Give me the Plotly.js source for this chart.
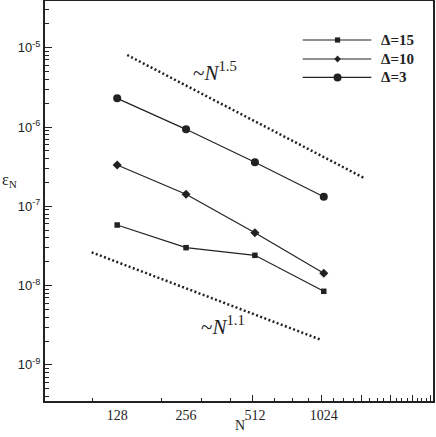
<!DOCTYPE html>
<html>
<head>
<meta charset="utf-8">
<script src="https://cdn.plot.ly/plotly-3.0.1.min.js"></script>
<style>
  html, body { margin: 0; padding: 0; background: #fff; }
  #plot { width: 436px; height: 437px; }
</style>
</head>
<body>
<div id="plot"></div>
<script>
// grid sizes and errors
const N = [128, 256, 512, 1024];
const err15 = [5.81e-8, 3.01e-8, 2.41e-8, 8.48e-9];
const err10 = [3.32e-7, 1.42e-7, 4.65e-8, 1.43e-8];
const err3 = [2.30e-6, 9.35e-7, 3.59e-7, 1.32e-7];

// reference slopes (end points of the dotted lines)
const slope15N = [141.6, 1548];
const slope15E = [8.09e-6, 2.25e-7];
const slope11N = [99, 984];
const slope11E = [2.63e-8, 2.10e-9];

const seriesNames = ['Δ=15', 'Δ=10', 'Δ=3'];
const xTickLabels = ['128', '256', '512', '1024'];
const yTickVals = [1e-9, 1e-8, 1e-7, 1e-6, 1e-5];
const yTickText = ['10<sup>-9</sup>', '10<sup>-8</sup>', '10<sup>-7</sup>', '10<sup>-6</sup>', '10<sup>-5</sup>'];

// tick marks on the N axis (tecplot style)
const xMajorMarks = [500, 1000, 1500, 2000, 2500, 3000];
const xMinorMarks = [100, 200, 300, 400, 625, 750, 875, 1125, 1250, 1375,
  1625, 1750, 1875, 2125, 2250, 2375, 2625, 2750, 2875];

const yMinor = [];
for (let e = -10; e <= -5; e++) {
  for (let d = 2; d <= 9; d++) yMinor.push(d * Math.pow(10, e));
}

const ink = '#222';
const serif = 'Liberation Serif';

const symbols = ['square', 'diamond', 'circle'];
const sizes = [5.5, 7, 8];
const errs = [err15, err10, err3];

const traces = errs.map((e, i) => ({
  x: N, y: e, name: seriesNames[i], mode: 'lines+markers', showlegend: false,
  line: { color: ink, width: 1.2 },
  marker: { symbol: symbols[i], size: sizes[i], color: ink }
}));
traces.push(
  { x: slope15N, y: slope15E, xaxis: 'x2', mode: 'lines', showlegend: false,
    line: { color: ink, width: 2.5, dash: '2px,2.4px' } },
  { x: slope11N, y: slope11E, xaxis: 'x2', mode: 'lines', showlegend: false,
    line: { color: ink, width: 2.5, dash: '2px,2.4px' } }
);

// hand-drawn legend (long key lines like the original)
const legX0 = 0.664, legX1 = 0.841, legXm = 0.754, legXt = 0.862;
const legY = [0.9025, 0.855, 0.809];
const keyPaths = {
  square: 'M-2.6,-2.6H2.6V2.6H-2.6Z',
  diamond: 'M0,-3.6L3.3,0L0,3.6L-3.3,0Z'
};
const shapes = [];
const annotations = [];
seriesNames.forEach((name, i) => {
  shapes.push({ type: 'line', xref: 'paper', yref: 'paper',
    x0: legX0, x1: legX1, y0: legY[i], y1: legY[i], line: { color: ink, width: 1.2 } });
  const key = { xref: 'paper', yref: 'paper',
    xsizemode: 'pixel', ysizemode: 'pixel', xanchor: legXm, yanchor: legY[i],
    fillcolor: ink, line: { width: 0 } };
  if (symbols[i] === 'circle') {
    Object.assign(key, { type: 'circle', x0: -4, x1: 4, y0: -4, y1: 4 });
  } else {
    Object.assign(key, { type: 'path', path: keyPaths[symbols[i]] });
  }
  shapes.push(key);
  annotations.push({ xref: 'paper', yref: 'paper', x: legXt, y: legY[i],
    xanchor: 'left', yanchor: 'middle', showarrow: false,
    text: '<b>' + name + '</b>', font: { family: serif, size: 15, color: ink } });
});

annotations.push(
  { xref: 'x', yref: 'y', x: 2.534, y: -5.306, showarrow: false,
    text: '~<i>N</i><sup>1.5</sup>', font: { family: serif, size: 21, color: ink } },
  { xref: 'x', yref: 'y', x: 2.569, y: -8.497, showarrow: false,
    text: '~<i>N</i><sup>1.1</sup>', font: { family: serif, size: 21, color: ink } },
  { xref: 'paper', yref: 'paper', x: -0.115, xanchor: 'left', y: 0.5525, showarrow: false,
    text: 'ε<sub>N</sub>', font: { family: serif, size: 16, color: ink } },
  { xref: 'paper', yref: 'paper', x: 0.503, y: -0.06, yanchor: 'middle', showarrow: false,
    text: 'N', font: { family: serif, size: 14, color: ink } }
);

const xRange = [1.7917, 3.4878];

const layout = {
  width: 436, height: 437,
  margin: { l: 45, r: 3, t: 1, b: 36 },
  paper_bgcolor: '#fff', plot_bgcolor: '#fff',
  showlegend: false,
  xaxis: {
    type: 'log', range: xRange,
    tickvals: N, ticktext: xTickLabels, ticks: '',
    tickfont: { family: serif, size: 14, color: ink },
    showgrid: false, zeroline: false,
    showline: true, linewidth: 2, linecolor: ink, mirror: true
  },
  xaxis2: {
    type: 'log', range: xRange, overlaying: 'x', anchor: 'y', side: 'bottom',
    tickvals: xMajorMarks, ticks: 'inside', ticklen: 6, tickwidth: 1, tickcolor: ink,
    showticklabels: false, showgrid: false, zeroline: false, showline: false,
    minor: { tickvals: xMinorMarks, ticks: 'inside', ticklen: 3, tickwidth: 1, tickcolor: ink }
  },
  yaxis: {
    type: 'log', range: [-9.455, -4.411],
    tickvals: yTickVals, ticktext: yTickText,
    ticks: 'inside', ticklen: 7, tickwidth: 1, tickcolor: ink,
    minor: { tickvals: yMinor, ticks: 'inside', ticklen: 4, tickwidth: 1, tickcolor: ink },
    tickfont: { family: 'Liberation Sans', size: 13, color: ink },
    showgrid: false, zeroline: false,
    showline: true, linewidth: 2, linecolor: ink, mirror: true
  },
  shapes: shapes,
  annotations: annotations
};

Plotly.newPlot('plot', traces, layout, { displayModeBar: false });
</script>
</body>
</html>
